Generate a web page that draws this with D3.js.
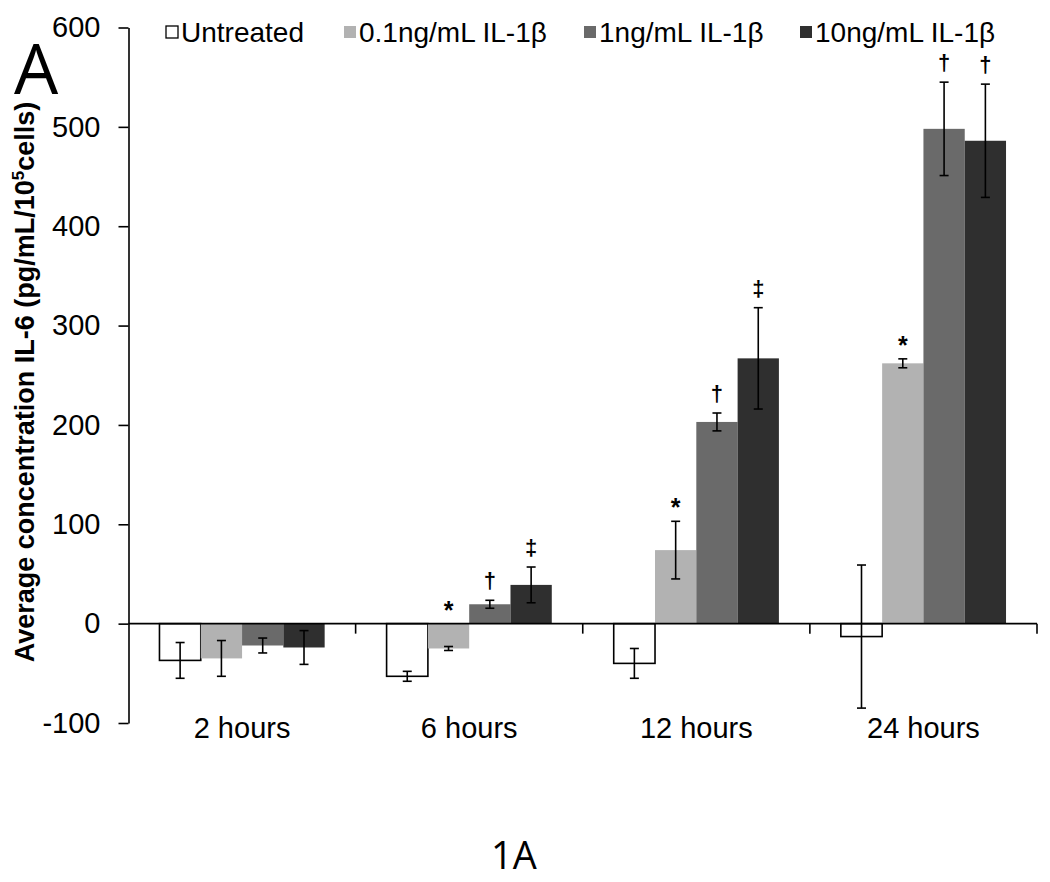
<!DOCTYPE html>
<html><head><meta charset="utf-8">
<script src="https://cdn.jsdelivr.net/npm/d3@7"></script>
<style>body{margin:0;background:#fff}svg{display:block}</style>
</head><body>
<svg id="c" width="1050" height="882"></svg>
<script>
const categories = ["2 hours", "6 hours", "12 hours", "24 hours"];
const seriesNames = ["Untreated", "0.1ng/mL IL-1β", "1ng/mL IL-1β", "10ng/mL IL-1β"];
const untreated = [-37, -53, -40, -13];
const il01 = [-35, -25, 74, 262];
const il1 = [-22, 19.5, 203, 498];
const il10 = [-24, 39, 267, 486];
const errUntreated = [18, 5, 15, 72];
const err01 = [18, 2, 29, 4.5];
const err1 = [7.5, 4, 9, 47];
const err10 = [17, 18, 51, 57];
// significance markers per series per category ("" = none)
const sig01 = ["", "*", "*", "*"];
const sig1 = ["", "†", "†", "†"];
const sig10 = ["", "‡", "‡", "†"];
const yTicks = [-100, 0, 100, 200, 300, 400, 500, 600];

(function () {
const colors = ["#ffffff", "#b2b2b2", "#6a6a6a", "#2f2f2f"];
const values = [untreated, il01, il1, il10];
const errs = [errUntreated, err01, err1, err10];
const sigs = [[], sig01, sig1, sig10];

const svg = d3.select("#c");
const FONT = "'Liberation Sans', Arial, sans-serif";
const pLeft = 128.5, pRight = 1037, pTop = 27.5, pBottom = 723;

const y = d3.scaleLinear().domain([-100, 600]).range([pBottom, pTop]);
const x0 = d3.scaleBand().domain(categories).range([pLeft, pRight]).paddingInner(0).paddingOuter(0);
const x1 = d3.scaleBand().domain(d3.range(4)).range([0, x0.bandwidth()]).paddingInner(0).paddingOuter(0.75);

// bars
const g = svg.append("g");
categories.forEach((c, ci) => {
  for (let s = 0; s < 4; s++) {
    const v = values[s][ci];
    const bx = x0(c) + x1(s);
    g.append("rect")
      .attr("x", bx).attr("width", x1.bandwidth())
      .attr("y", y(Math.max(0, v))).attr("height", Math.abs(y(v) - y(0)))
      .attr("fill", colors[s])
      .attr("stroke", s === 0 ? "#000" : "none").attr("stroke-width", s === 0 ? 1.6 : 0);
  }
});

// axes
const yAxis = d3.axisLeft(y).tickValues(yTicks).tickSize(10).tickSizeOuter(0).tickPadding(18)
  .tickFormat(d => String(d));
const ya = svg.append("g").attr("transform", `translate(${pLeft},0)`).call(yAxis);
ya.selectAll("path,line").attr("stroke", "#000").attr("stroke-width", 1.6);
ya.selectAll("text").attr("font-family", FONT).attr("font-size", 29).attr("fill", "#000");

// x axis line at zero with boundary ticks
svg.append("line").attr("x1", pLeft).attr("x2", pRight).attr("y1", y(0)).attr("y2", y(0))
  .attr("stroke", "#000").attr("stroke-width", 1.6);
categories.forEach(c => {
  const bx = x0(c) + x0.bandwidth();
  svg.append("line").attr("x1", bx).attr("x2", bx).attr("y1", y(0)).attr("y2", y(0) + 10)
    .attr("stroke", "#000").attr("stroke-width", 1.6);
});
categories.forEach(c => {
  svg.append("text").attr("x", x0(c) + x0.bandwidth() / 2).attr("y", y(-100) + 15)
    .attr("text-anchor", "middle").attr("font-family", FONT).attr("font-size", 29).text(c);
});

// error bars and markers
categories.forEach((c, ci) => {
  for (let s = 0; s < 4; s++) {
    const v = values[s][ci], e = errs[s][ci];
    const cx = x0(c) + x1(s) + x1.bandwidth() / 2;
    const eg = svg.append("g").attr("stroke", "#000").attr("stroke-width", 1.6);
    eg.append("line").attr("x1", cx).attr("x2", cx).attr("y1", y(v - e)).attr("y2", y(v + e));
    [v - e, v + e].forEach(t => eg.append("line").attr("x1", cx - 4.5).attr("x2", cx + 4.5).attr("y1", y(t)).attr("y2", y(t)));
    const m = sigs[s][ci];
    if (m) {
      const off = m === "*" ? 5 : 12;
      svg.append("text").attr("x", cx).attr("y", y(Math.max(0, v + e)) - off)
        .attr("text-anchor", "middle").attr("font-family", FONT).attr("font-weight", "bold")
        .attr("font-size", m === "*" ? 25 : 22).text(m);
    }
  }
});

// legend
const legX = [166, 344, 584, 800];
seriesNames.forEach((n, i) => {
  svg.append("rect").attr("x", legX[i]).attr("y", 26).attr("width", 12).attr("height", 12)
    .attr("fill", colors[i]).attr("stroke", i === 0 ? "#000" : "none").attr("stroke-width", 1.3);
  svg.append("text").attr("x", legX[i] + 15).attr("y", 42).attr("font-family", FONT).attr("font-size", 28).text(n);
});

// y title
const yt = svg.append("text").attr("transform", "translate(34,382) rotate(-90)")
  .attr("text-anchor", "middle").attr("font-family", FONT).attr("font-weight", "bold").attr("font-size", 27);
yt.append("tspan").text("Average concentration IL-6 (pg/mL/10");
yt.append("tspan").attr("dy", -10).attr("font-size", 17).text("5");
yt.append("tspan").attr("dy", 10).text("cells)");

// panel letter & caption
svg.append("text").attr("x", 14).attr("y", 94).attr("font-family", "'Open Sans', sans-serif").attr("font-size", 70).text("A");
svg.append("text").attr("x", 514).attr("y", 869).attr("text-anchor", "middle").attr("font-family", "'Open Sans', sans-serif").attr("font-size", 38).text("1A");
})();
</script>
</body></html>
